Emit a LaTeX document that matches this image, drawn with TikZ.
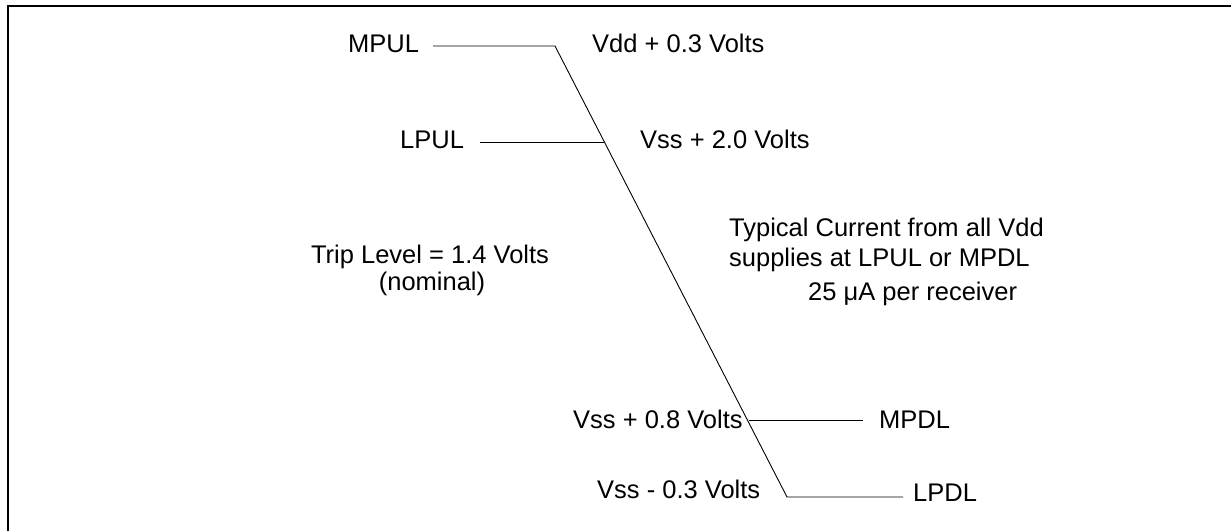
\documentclass[tikz,border=0pt]{standalone}
\usepackage{fontspec}
\setmainfont{Liberation Sans}
\begin{document}
\begin{tikzpicture}[x=1pt,y=-1pt,
  lbl/.style={inner sep=0pt,anchor=base west,font=\fontsize{25.5}{31}\selectfont},
  lblc/.style={inner sep=0pt,anchor=base,font=\fontsize{25.5}{31}\selectfont},
  wire/.style={line width=0.9pt,black},
  frame/.style={line width=2pt,black}]
\useasboundingbox (0,0) rectangle (1231,531);
% frame (top and left edges visible)
\draw[frame] (8,531) -- (8,6) -- (1231,6);
% labels
\node[lbl] (mpul) at (348,52) {MPUL};
\node[lbl] (vdd) at (592,52) {Vdd + 0.3 Volts};
\node[lbl] (lpul) at (400,148) {LPUL};
\node[lbl] (vss20) at (640,148) {Vss + 2.0 Volts};
\node[lblc] (trip) at (430,263) {Trip Level = 1.4 Volts};
\node[lblc] (nom) at (432,290) {(nominal)};
\node[lbl] (cur1) at (729,236) {Typical Current from all Vdd};
\node[lbl] (cur2) at (729,266) {supplies at LPUL or MPDL};
\node[lbl] (cur3) at (808,300) {25 μA per receiver};
\node[lbl] (vss08) at (573,428) {Vss + 0.8 Volts};
\node[lbl] (mpdl) at (879,428) {MPDL};
\node[lbl] (vss03) at (597,498) {Vss - 0.3 Volts};
\node[lbl] (lpdl) at (913,501) {LPDL};
% curve
\coordinate (mpulS) at (433,46);
\coordinate (top) at (555,46);
\coordinate (bot) at (787,497);
\coordinate (lpdlE) at (903,497);
\coordinate (lpulS) at (480,142);
\coordinate (lpulE) at (604,142);
\coordinate (mpdlS) at (749,420);
\coordinate (mpdlE) at (863,420);
\draw[wire] (mpulS) -- (top) -- (bot) -- (lpdlE);
\draw[wire] (lpulS) -- (lpulE);
\draw[wire] (mpdlS) -- (mpdlE);
\end{tikzpicture}
\end{document}
